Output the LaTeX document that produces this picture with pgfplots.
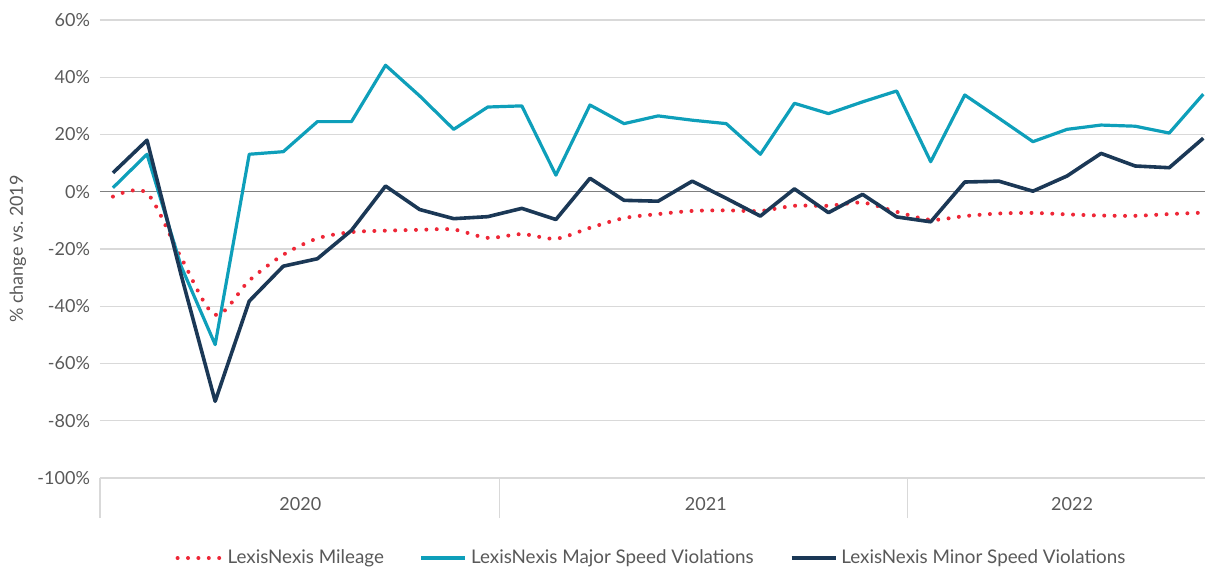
\documentclass[border=0pt]{standalone}
\usepackage{fontspec}
\setmainfont{Lato}
\usepackage{pgfplots}
\usepackage{pgfplotstable}
\pgfplotsset{compat=1.18}

\definecolor{mileRed}{HTML}{EE2737}
\definecolor{majorCyan}{HTML}{0E9FBA}
\definecolor{minorNavy}{HTML}{1B3856}
\definecolor{txtGray}{HTML}{595959}
\definecolor{gridGray}{HTML}{D9D9D9}

% monthly values, Jan 2020 (i=0) to Sep 2022 (i=32), % change vs. 2019
\pgfplotstableread{
i  mileage major minor
0  -1.7    1.4    6.6
1  -0.5    13.1   18.0
2  -23.0   -26.0  -29.0
3  -43.0   -53.4  -73.2
4  -31.0   13.1   -38.2
5  -22.0   14.0   -26.0
6  -16.3   24.5   -23.4
7  -14.1   24.5   -13.5
8  -13.6   44.2   2.0
9  -13.3   33.5   -6.2
10 -13.2   21.8   -9.4
11 -16.1   29.6   -8.7
12 -14.8   30.0   -5.8
13 -16.4   5.8    -9.7
14 -12.6   30.3   4.7
15 -9.2    23.8   -3.0
16 -7.8    26.5   -3.3
17 -6.7    25.0   3.7
18 -6.5    23.8   -2.3
19 -6.7    13.1   -8.5
20 -4.9    30.9   1.0
21 -4.9    27.3   -7.3
22 -3.8    31.4   -0.9
23 -7.0    35.2   -8.8
24 -9.8    10.5   -10.5
25 -8.5    33.8   3.4
26 -7.6    25.7   3.7
27 -7.4    17.5   0.2
28 -7.9    21.8   5.5
29 -8.3    23.3   13.4
30 -8.4    22.9   9.0
31 -7.8    20.5   8.4
32 -7.3    34.1   18.7
}\speeddata

\begin{document}
\begin{tikzpicture}
\begin{axis}[
    width=552.5pt, height=229pt, scale only axis,
    xmin=-0.38, xmax=32.05, ymin=-100, ymax=60,
    axis line style={draw=none},
    ytick={-100,-80,...,60},
    yticklabels={-100\%,-80\%,-60\%,-40\%,-20\%,0\%,20\%,40\%,60\%},
    ymajorgrids,
    grid style={gridGray, line width=0.6pt},
    extra y ticks={0}, extra y tick labels={},
    extra y tick style={grid style={black!50, line width=0.7pt}},
    xtick={5.5,17.4,28.15}, xticklabels={2020,2021,2022},
    extra x ticks={-0.38,11.35,23.33}, extra x tick labels={},
    extra x tick style={major tick length=20pt},
    xtick pos=lower, ytick pos=left,
    major tick length=0pt,
    tick align=outside,
    tick style={gridGray, line width=0.6pt},
    tick label style={font=\fontsize{9}{10}\selectfont, text=txtGray},
    yticklabel style={xshift=-1.5pt},
    xticklabel style={yshift=-6pt},
    ylabel={\% change vs.\ 2019},
    every axis y label/.style={at={(axis description cs:-0.0742,0.5)}, rotate=90, anchor=center,
        font=\fontsize{9}{10}\selectfont, text=txtGray},
    legend style={at={(0.5,-0.1747)}, anchor=center, draw=none, legend columns=3,
        font=\fontsize{9.4}{10}\selectfont, text=txtGray,
        /tikz/every even column/.append style={column sep=16pt}},
    legend image code/.code={\draw[#1] (0pt,0pt) -- (22pt,0pt);},
]
\addplot[mileRed, line width=2pt, line cap=round, dash pattern=on 0pt off 5.2pt, smooth, tension=0.5]
    table[x=i, y=mileage] {\speeddata};
\addlegendentry{LexisNexis Mileage}
\addplot[majorCyan, line width=1.6pt, line join=round]
    table[x=i, y=major] {\speeddata};
\addlegendentry{LexisNexis Major Speed Violations}
\addplot[minorNavy, line width=1.8pt, line join=round]
    table[x=i, y=minor] {\speeddata};
\addlegendentry{LexisNexis Minor Speed Violations}
\end{axis}
\pgfresetboundingbox
\path ([shift={(-50pt,-45.5pt)}]current axis.south west) rectangle ([shift={(0.5pt,10pt)}]current axis.north east);
\end{tikzpicture}
\end{document}
